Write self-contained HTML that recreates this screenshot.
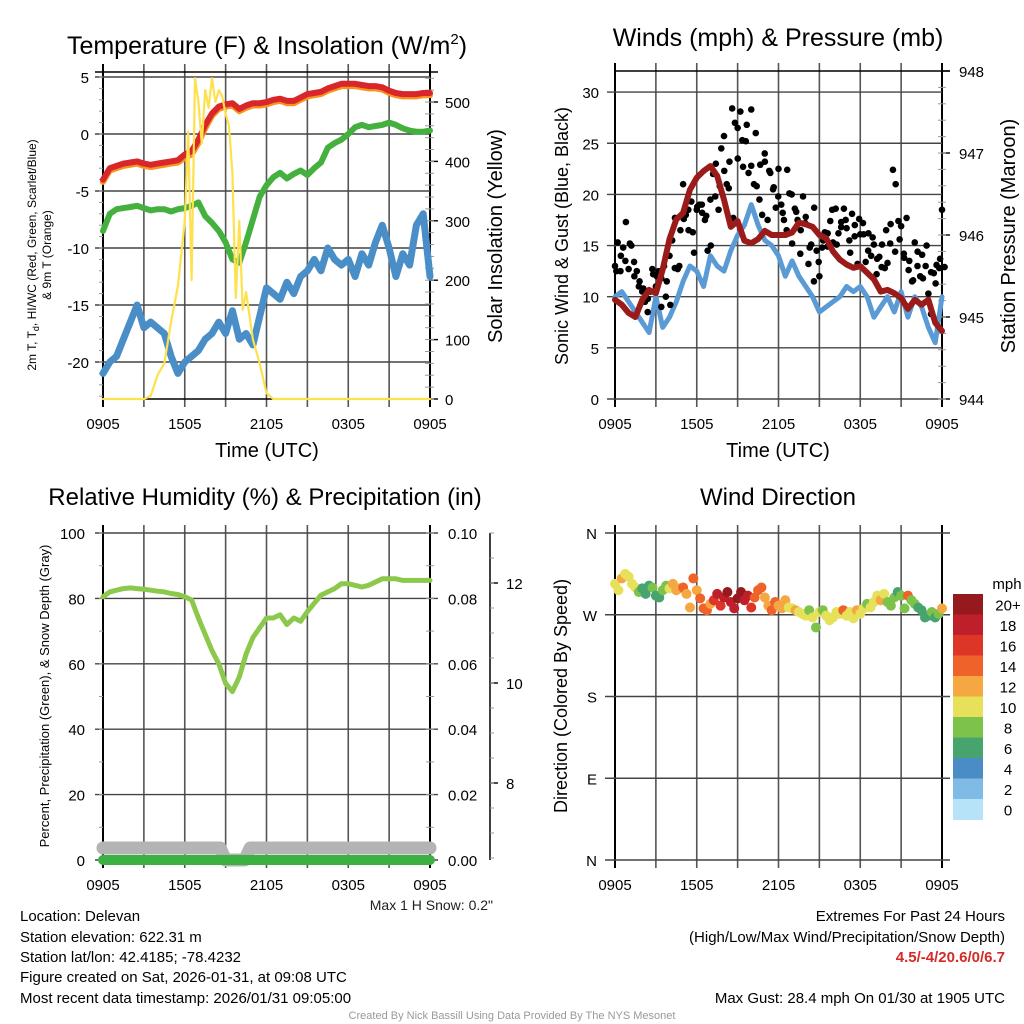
<!DOCTYPE html>
<html><head><meta charset="utf-8"><style>
body{margin:0;background:#fff}
svg{display:block;font-family:"Liberation Sans",sans-serif}
</style></head><body>
<svg id="s" width="1024" height="1024" viewBox="0 0 1024 1024" xmlns="http://www.w3.org/2000/svg">
<rect width="1024" height="1024" fill="#fff"/>
<text x="267" y="54" font-size="25" text-anchor="middle">Temperature (F) &amp; Insolation (W/m<tspan dy="-10" font-size="15">2</tspan><tspan dy="10">)</tspan></text>
<text x="778" y="46" font-size="25" text-anchor="middle">Winds (mph) &amp; Pressure (mb)</text>
<text x="265" y="505" font-size="24" text-anchor="middle">Relative Humidity (%) &amp; Precipitation (in)</text>
<text x="778" y="505" font-size="24" text-anchor="middle">Wind Direction</text>

<text transform="translate(36,255) rotate(-90)" font-size="12" text-anchor="middle">2m T, T<tspan font-size="9" dy="3">d</tspan><tspan dy="-3">, HI/WC (Red, Green, Scarlet/Blue)</tspan></text>
<text transform="translate(51,255) rotate(-90)" font-size="12" text-anchor="middle">&amp; 9m T (Orange)</text>
<text transform="translate(502,236) rotate(-90)" font-size="20" text-anchor="middle">Solar Insolation (Yellow)</text>
<text x="267" y="457" font-size="20" text-anchor="middle">Time (UTC)</text>
<text transform="translate(568,236) rotate(-90)" font-size="18" text-anchor="middle">Sonic Wind &amp; Gust (Blue, Black)</text>
<text transform="translate(1015,236) rotate(-90)" font-size="20" text-anchor="middle">Station Pressure (Maroon)</text>
<text x="778" y="457" font-size="20" text-anchor="middle">Time (UTC)</text>
<text transform="translate(49,696) rotate(-90)" font-size="13" text-anchor="middle">Percent, Precipitation (Green), &amp; Snow Depth (Gray)</text>
<text transform="translate(567,696) rotate(-90)" font-size="18" text-anchor="middle">Direction (Colored By Speed)</text>

<g id="plots"></g>

<text x="493" y="910" font-size="14" text-anchor="end" fill="#222">Max 1 H Snow: 0.2"</text>
<g font-size="15" fill="#000">
<text x="20" y="921">Location: Delevan</text>
<text x="20" y="942">Station elevation: 622.31 m</text>
<text x="20" y="962">Station lat/lon: 42.4185; -78.4232</text>
<text x="20" y="982">Figure created on Sat, 2026-01-31, at 09:08 UTC</text>
<text x="20" y="1003">Most recent data timestamp: 2026/01/31 09:05:00</text>
<text x="1005" y="921" text-anchor="end">Extremes For Past 24 Hours</text>
<text x="1005" y="942" text-anchor="end">(High/Low/Max Wind/Precipitation/Snow Depth)</text>
<text x="1005" y="962" text-anchor="end" fill="#d42a2a" font-weight="bold">4.5/-4/20.6/0/6.7</text>
<text x="1005" y="1003" text-anchor="end">Max Gust: 28.4 mph On 01/30 at 1905 UTC</text>
</g>
<text x="512" y="1019" font-size="11" fill="#999" text-anchor="middle">Created By Nick Bassill Using Data Provided By The NYS Mesonet</text>
</svg>
<script>
// ---- data ----
const timeLabels = ["0905","1505","2105","0305","0905"];
const half = [0,0.5,1,1.5,2,2.5,3,3.5,4,4.5,5,5.5,6,6.5,7,7.5,8,8.5,9,9.5,10,10.5,11,11.5,12,12.5,13,13.5,14,14.5,15,15.5,16,16.5,17,17.5,18,18.5,19,19.5,20,20.5,21,21.5,22,22.5,23,23.5,24];
const tempRed = [-4.0,-3.0,-2.8,-2.6,-2.5,-2.4,-2.6,-2.7,-2.6,-2.5,-2.4,-2.3,-1.8,-1.5,-0.5,0.8,1.8,2.4,2.6,2.7,2.2,2.5,2.7,2.7,2.8,3.0,3.1,2.9,2.9,3.2,3.5,3.6,3.7,4.0,4.2,4.4,4.4,4.4,4.3,4.2,4.2,4.1,3.8,3.6,3.5,3.5,3.5,3.6,3.6];
const temp9m = [-4.2,-3.2,-3.0,-2.8,-2.7,-2.6,-2.8,-2.9,-2.8,-2.7,-2.6,-2.5,-2.1,-1.8,-0.8,0.5,1.6,2.2,2.4,2.5,2.0,2.3,2.5,2.5,2.6,2.8,2.9,2.7,2.7,3.0,3.3,3.4,3.5,3.8,4.0,4.2,4.2,4.2,4.1,4.0,4.0,3.9,3.6,3.4,3.3,3.3,3.3,3.4,3.4];
const dewGreen = [-8.5,-7.0,-6.6,-6.5,-6.4,-6.3,-6.5,-6.7,-6.6,-6.6,-6.8,-6.6,-6.5,-6.3,-6.0,-7.2,-7.8,-8.5,-9.5,-11.0,-11.3,-9.5,-7.5,-5.5,-4.5,-3.8,-3.4,-3.9,-3.5,-3.2,-3.6,-3.0,-2.5,-1.2,-0.8,-0.5,0.0,0.6,0.8,0.6,0.7,0.8,1.0,0.8,0.5,0.3,0.2,0.2,0.3];
const chillBlue = [-21,-20,-19.5,-18,-16.5,-15,-17,-16.5,-17,-17.5,-19.5,-21,-20,-19.5,-19,-18,-17.5,-16.5,-17.5,-15.5,-18,-17.5,-18.5,-16,-13.5,-14,-14.5,-13,-14,-12.5,-12,-11,-12,-10,-11,-11.5,-11,-12.5,-10.5,-11.5,-9.5,-8,-10,-12.5,-10.5,-11.5,-8,-7,-12.5];
const solarHours = [0,3,3.5,4,4.5,5,5.5,6,6.25,6.5,6.75,7,7.25,7.5,7.75,8,8.25,8.5,8.75,9,9.25,9.5,9.75,10,10.25,10.5,10.75,11,11.5,12,12.5,24];
const solarVals = [0,0,5,40,60,130,190,300,450,200,540,500,430,520,490,540,500,520,510,480,460,380,170,300,150,180,140,100,60,10,0,0];
const windBlue = [10,10.5,9.5,8.5,7.5,6.5,10,7,8,9.5,11.5,13,12.5,11,14,13,12.5,14.5,16,17,19,17,15.5,15,14,12,13.5,12,11,10,8.5,9,9.5,10,11,10.5,11,10,8,9,10,8.5,10.5,8,10,9,7,5.5,10];
const pressure = [945.21,945.15,945.05,945.0,945.21,945.33,945.29,945.58,945.95,946.19,946.27,946.55,946.7,946.78,946.84,946.72,946.43,946.1,946.17,945.93,945.9,945.95,946.05,946.0,946.0,946.0,946.03,946.15,946.13,946.1,946.0,945.96,945.8,945.7,945.64,945.6,945.62,945.54,945.46,945.31,945.33,945.29,945.23,945.1,945.21,945.15,945.21,944.93,944.83];
const gusts = [13,15.3,12.5,14.8,17.3,12.7,15,13.4,12.5,11.5,10.5,9.5,8.5,10.5,12.2,11,12.5,9,13,11.5,14,15.5,17.7,12.7,16.5,21,18,16.5,19.3,14.3,18.5,19,18.2,17.5,14.5,19.5,22,23,18.5,24.5,25.7,21,23.2,28.4,27,26.5,28.1,22.7,25.2,22.1,22.8,21,20.8,19.5,18,23.2,17.5,22.1,20.5,18.7,22.5,19,17.5,16.5,20.1,15.2,18.6,17.5,14.2,19.8,17.8,13.2,15.1,11.5,14.5,12,14.8,16.3,14.9,17.4,15.3,18.6,16.2,17.3,18.6,16.7,15.5,18.1,17.0,13.2,16.1,17.2,13.4,16.2,14.0,15.1,12.2,13.9,15.1,12.8,13.3,15.2,22.4,21.0,17.4,16.9,14.2,17.7,13.5,11.5,15.3,13.0,12.0,11.8,13.0,10.3,8.3,12.3,13.1,12.8,18.5];
const gusts2 = [12.5,14,13.5,15.2,12,11,10.8,9.8,12.7,12,11.8,10,9.2,12.8,13,17.6,18.5,16.3,18.8,19,17.9,15,19.8,20.8,22.3,20.6,17.7,23.5,25.3,26.8,28.3,26,22.9,24,22.3,20.7,19.8,18.2,22.4,20,18.3,16.5,17.2,14.8,18.7,13.4,15.5,16.2,18.5,15.1,16.8,17.5,14.3,15.9,17.6,16.1,14.5,15.8,13.7,12.9,16.5,17.1,14.4,15.6,13.8,12.6,11.6,14.4,14.1,15.0,12.4,11.3,13.7,12.9];
const gustStep = 0.2;
const gust2Step = 0.33;
const rhVals = [80.5,82,82.5,83,83.2,83,82.8,82.5,82.2,82,81.5,81.2,80.5,79.5,74,69,64,60,54,51.5,56,63,68,71,74,74,75,72,74,73,76,78.5,81,82,83,84.5,84.5,84,83.5,84,85,86,86,86,85.5,85.5,85.5,85.5,85.5];
const precipHours = [0,24];
const precipVals = [0,0];
const snowHours = [0,8.6,9,10.4,10.8,24];
const snowVals = [6.7,6.7,6.46,6.46,6.7,6.7];
const dirStep = 0.25;
const dirDeg = [304,297,310,315,312,304,300,295,299,293,302,300,291,289,297,302,299,304,297,299,300,293,278,310,297,288,277,275,282,286,293,280,289,295,284,277,288,295,286,291,278,289,297,300,289,280,275,284,280,277,286,278,277,275,273,271,269,275,267,256,273,275,269,264,267,273,271,275,269,273,266,275,271,277,282,278,284,291,286,293,284,280,289,295,291,277,291,286,282,278,275,267,269,273,267,271,277];
const dirSpeed = [11,10,12,10,11,10,10,9,7,7,6,8,6,7,8,9,10,12,13,12,14,12,13,15,12,14,14,15,13,16,18,17,19,20,18,19,20,21,18,19,16,15,14,15,13,12,14,15,13,12,13,11,11,12,11,10,10,9,10,8,10,9,10,11,10,11,10,15,11,10,10,12,11,10,9,10,10,11,12,10,8,9,8,7,8,9,14,8,9,7,6,7,6,8,7,9,12];
const cbLabels = ["20+","18","16","14","12","10","8","6","4","2","0"];
const cbColors = ["#961a1d","#bf1e2b","#dd3528","#ef6229","#f5a742","#e6e05a","#7dc24b","#47a46e","#4a8dc6","#7fbbe4","#b6e3f8"];

// ---- helpers ----
const NS="http://www.w3.org/2000/svg";
const G=document.getElementById('plots');
function mk(tag,attrs,parent){const e=document.createElementNS(NS,tag);for(const k in attrs)e.setAttribute(k,attrs[k]);(parent||G).appendChild(e);return e;}
function polyline(xs,ys,color,w,name){
  const pts=xs.map((x,i)=>x.toFixed(1)+','+ys[i].toFixed(1)).join(' ');
  const e=mk('polyline',{points:pts,fill:'none',stroke:color,'stroke-width':w,'stroke-linejoin':'round','stroke-linecap':'round'});
  
  
  return e;
}
function txt(x,y,s,anchor,size,name){
  const e=mk('text',{x:x,y:y,'text-anchor':anchor,'font-size':size});
  e.textContent=s;
  
  
  return e;
}
function ln(x1,y1,x2,y2,c,w,name){
  const e=mk('line',{x1:x1,y1:y1,x2:x2,y2:y2,stroke:c,'stroke-width':w});
  
  
  return e;
}
function panelFrame(x0,x1,yTop,yBot,prefix){
  const pw=(x1-x0)/24;
  for(let k=0;k<=8;k++){
    const x=x0+k*3*pw;
    ln(x,yTop-8,x,yBot+8,(k===0||k===8)?'#000':'#555',(k===0||k===8)?2:1.6,prefix+'-v-grid');
  }
  timeLabels.forEach((s,i)=>txt(x0+i*6*pw,yBot+30,s,'middle',15,prefix+'-x-tick-label'));
}

// ---- Panel 1: temperature ----
(function(){
  const x0=103,x1=430,top=72,bot=399;
  const X=h=>x0+h*(x1-x0)/24;
  const Y=v=>134-v*11.4;
  const YI=w=>399-w*0.594;
  panelFrame(x0,x1,top,bot,'temp');
  ln(x0-8,top,x1+8,top,'#000',1.5,'temp-top-border');
  ln(x0,bot,x1,bot,'#000',1.5,'temp-bottom-border');
  [5,0,-5,-10,-15,-20].forEach(v=>{ln(x0-8,Y(v),x1,Y(v),'#444',1.4,'temp-h-grid');txt(x0-14,Y(v)+6,String(v),'end',15,'temp-y-tick-label');});
  for(let v=-23;v<=5;v++){ln(x0-4,Y(v),x0,Y(v),'#999',1,'temp-minor-tick');}
  [0,100,200,300,400,500].forEach(w=>{ln(x1,YI(w),x1+8,YI(w),'#000',1.4,'solar-tick');txt(x1+15,YI(w)+6,String(w),'start',15,'solar-y-tick-label');});
  for(let w=0;w<=550;w+=20){ln(x1-5,YI(w),x1+4,YI(w),'#999',1,'solar-minor-tick');}
  polyline(half.map(X),temp9m.map(Y),'#f7941d',6,'temp-9m-orange-line');
  polyline(half.map(X),tempRed.map(Y),'#d9262a',6,'temp-2m-red-line');
  polyline(half.map(X),dewGreen.map(Y),'#44b13f',6,'dewpoint-green-line');
  polyline(half.map(X),chillBlue.map(Y),'#4a8ec8',7,'wind-chill-blue-line');
  polyline(solarHours.map(X),solarVals.map(YI),'#fde14e',2.2,'solar-insolation-line');
})();

// ---- Panel 2: winds ----
(function(){
  const x0=615,x1=942,top=71,bot=399;
  const X=h=>x0+h*(x1-x0)/24;
  const Y=v=>399-v*10.23;
  const YP=p=>399-(p-944)*82;
  panelFrame(x0,x1,top,bot,'wind');
  ln(x0,top,x1+8,top,'#000',1.5,'wind-top-border');
  [0,5,10,15,20,25,30].forEach(v=>{ln(x0-8,Y(v),x1,Y(v),'#444',1.4,'wind-h-grid');txt(x0-16,Y(v)+6,String(v),'end',15,'wind-y-tick-label');});
  [944,945,946,947,948].forEach(p=>{ln(x1,YP(p),x1+8,YP(p),'#000',1.4,'pressure-tick');txt(x1+17,YP(p)+6,String(p),'start',15,'pressure-y-tick-label');});
  for(let p=944;p<=948;p+=0.2){ln(x1-4,YP(p),x1+4,YP(p),'#999',1,'pressure-minor-tick');}
  polyline(half.map(X),windBlue.map(Y),'#5b9bd5',5,'sonic-wind-blue-line');
  gusts.forEach((g,i)=>{
    const c=mk('circle',{cx:X(i*gustStep),cy:Y(g),r:3.3,fill:'#000'});
    
    
  });
  gusts2.forEach((g,i)=>{
    const c=mk('circle',{cx:X(0.1+i*gust2Step),cy:Y(g),r:3.3,fill:'#000'});
    
    
  });
  polyline(half.map(X),pressure.map(YP),'#9b1b1b',6,'station-pressure-line');
})();

// ---- Panel 3: humidity ----
(function(){
  const x0=103,x1=430,top=533,bot=860;
  const X=h=>x0+h*(x1-x0)/24;
  const Y=v=>860-v*3.27;
  const YS=s=>860-(s-6.46)*50;
  panelFrame(x0,x1,top,bot,'rh');
  [0,20,40,60,80,100].forEach(v=>{ln(x0-8,Y(v),x1+8,Y(v),'#444',1.4,'rh-h-grid');txt(x0-18,Y(v)+6,String(v),'end',15,'rh-y-tick-label');});
  for(let v=0;v<=100;v+=10){ln(x0-4,Y(v),x0,Y(v),'#999',1,'rh-minor-tick');ln(x1-4,Y(v),x1+4,Y(v),'#999',1,'precip-minor-tick');}
  ['0.00','0.02','0.04','0.06','0.08','0.10'].forEach((s,i)=>txt(x1+18,Y(i*20)+6,s,'start',15,'precip-y-tick-label'));
  ln(490,top,490,bot,'#000',1.5,'snow-depth-axis');
  [8,10,12].forEach(s=>{ln(490,YS(s),498,YS(s),'#000',1.4,'snow-tick');txt(506,YS(s)+6,String(s),'start',15,'snow-y-tick-label');});
  for(let s=6.5;s<=13;s+=0.5){ln(490,YS(s),494,YS(s),'#999',1,'snow-minor-tick');}
  polyline(snowHours.map(X),snowVals.map(YS),'#b4b4b4',13,'snow-depth-gray-line');
  polyline(precipHours.map(X),precipVals.map(Y),'#3cb043',10,'precipitation-green-line');
  polyline(half.map(X),rhVals.map(Y),'#8cc84b',5,'relative-humidity-line');
})();

// ---- Panel 4: wind direction ----
(function(){
  const x0=615,x1=942,top=533,bot=860;
  const X=h=>x0+h*(x1-x0)/24;
  const Y=d=>860-d*(327/360);
  panelFrame(x0,x1,top,bot,'dir');
  [['N',360],['W',270],['S',180],['E',90],['N',0]].forEach(([s,d])=>{ln(x0-10,Y(d),x1+8,Y(d),'#444',1.4,'dir-h-grid');txt(x0-18,Y(d)+6,s,'end',15,'dir-y-tick-label');});
  function colorFor(v){let idx=Math.min(10,Math.floor(v/2));return cbColors[10-idx];}
  dirDeg.forEach((d,i)=>{
    const c=mk('circle',{cx:X(i*dirStep),cy:Y(d),r:5,fill:colorFor(dirSpeed[i])});
    
    
  });
  const cx=953,cw=30,cy0=594,ch=20.5;
  txt(1007,589,'mph','middle',15,'colorbar-title');
  cbColors.forEach((col,i)=>{
    const r=mk('rect',{x:cx,y:cy0+i*ch,width:cw,height:ch+0.5,fill:col});
    
    
    txt(1008,cy0+i*ch+ch/2+6,cbLabels[i],'middle',15,'colorbar-label');
  });
})();
</script>
</body></html>
